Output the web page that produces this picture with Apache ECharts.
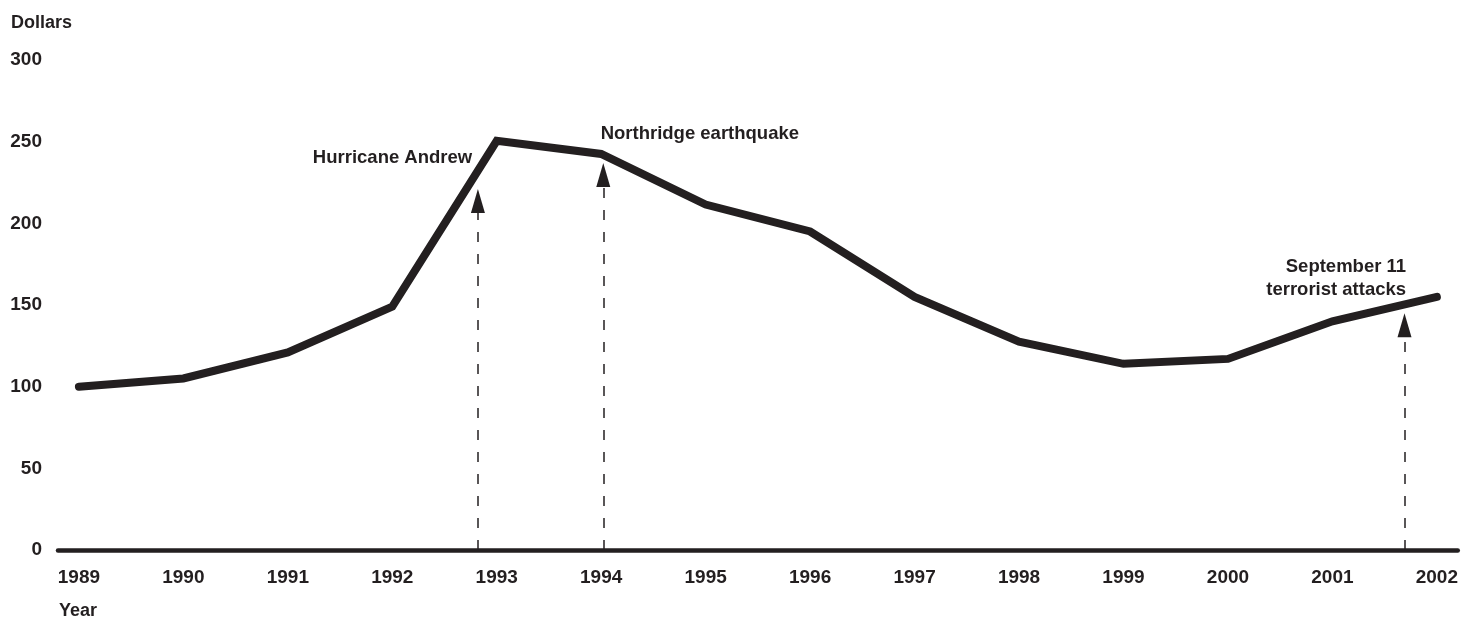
<!DOCTYPE html>
<html>
<head>
<meta charset="utf-8">
<script src="https://cdn.jsdelivr.net/npm/echarts@6/dist/echarts.min.js"></script>
<style>
html,body{margin:0;padding:0;background:#fff;}
#chart{width:1461px;height:618px;}
</style>
</head>
<body>
<div id="chart"></div>
<script>
// ---- data ----
const years = [1989,1990,1991,1992,1993,1994,1995,1996,1997,1998,1999,2000,2001,2002];
const dollars = [100,105,121,149,250.5,242.5,211.5,195,155,127.5,114,117,140,155];
const yTicks = [0,50,100,150,200,250,300];
// annotation: label, event x (year), arrow tip value, dash top value
const annLabels = ['Hurricane Andrew','Northridge earthquake','September 11\nterrorist attacks'];
const annX = [1992.82, 1994.02, 2001.69];
const annTip = [221, 237, 145];
const annDashTop = [207, 222, 131];
// label anchor (data space) and side
const annLabelX = [1992.77, 1993.99, 2001.71];
const annLabelY = [240, 254.7, 166.2];
const annLabelSide = ['left','right','left'];

const FONT = "'Liberation Sans', Arial, Helvetica, sans-serif";
const INK = '#231f20';
const ARROW_H = 24, ARROW_W = 14;

const chart = echarts.init(document.getElementById('chart'));

const lineData = years.map((y,i)=>[y, dollars[i]]);

const markLines = annX.map((x,i)=>[{coord:[x,0]},{coord:[x,annDashTop[i]]}]);
const pxPerUnit = (550-60)/300;
const arrowPoints = annX.map((x,i)=>({
  coord:[x, annTip[i] - (ARROW_H/2)/pxPerUnit],
  symbol:'triangle',
  symbolSize:[ARROW_W, ARROW_H],
  itemStyle:{color:INK},
  label:{show:false}
}));
const labelPoints = annLabels.map((t,i)=>({
  coord:[annLabelX[i], annLabelY[i]],
  name:t,
  symbol:'circle',
  symbolSize:1,
  itemStyle:{color:'#ffffff'},
  label:{
    show:true,
    position:annLabelSide[i],
    align: annLabelSide[i]==='left'?'right':'left',
    distance:0,
    formatter:t,
    fontFamily:FONT, fontSize:18.5, fontWeight:'bold', color:INK,
    lineHeight:23
  }
}));

const TXT = {fontFamily:FONT,fontSize:18,fontWeight:'bold',color:INK};

chart.setOption({
  animation:false,
  backgroundColor:'#fff',
  title:[
    {text:'Dollars', left:6, top:9, textStyle:TXT},
    {text:'Year', left:54, top:597, textStyle:TXT}
  ],
  grid:{left:58, right:3, top:60, bottom:68, containLabel:false},
  xAxis:{
    type:'value', min:1988.8, max:2002.2,
    splitLine:{show:false},
    axisTick:{show:false},
    axisLine:{show:true, onZero:false, lineStyle:{color:INK, width:4.5}},
    axisLabel:{
      customValues: years,
      margin:18,
      fontFamily:FONT, fontSize:19, fontWeight:'bold', color:INK,
      formatter:v=>String(Math.round(v))
    }
  },
  yAxis:{
    type:'value', min:0, max:300, interval:50,
    splitLine:{show:false},
    axisTick:{show:false},
    axisLine:{show:false},
    axisLabel:{
      margin:16,
      fontFamily:FONT, fontSize:19, fontWeight:'bold', color:INK,
      customValues: yTicks
    }
  },
  series:[
    {
      type:'line',
      data:lineData,
      symbol:'none',
      z:5,
      lineStyle:{color:INK, width:8, cap:'round', join:'miter'},
      markLine:{
        silent:true,
        symbol:['none','none'],
        label:{show:false},
        lineStyle:{color:INK, width:1.5, type:[10,12]},
        data:markLines
      },
      markPoint:{
        silent:true,
        data:arrowPoints.concat(labelPoints)
      }
    }
  ]
});
</script>
</body>
</html>
